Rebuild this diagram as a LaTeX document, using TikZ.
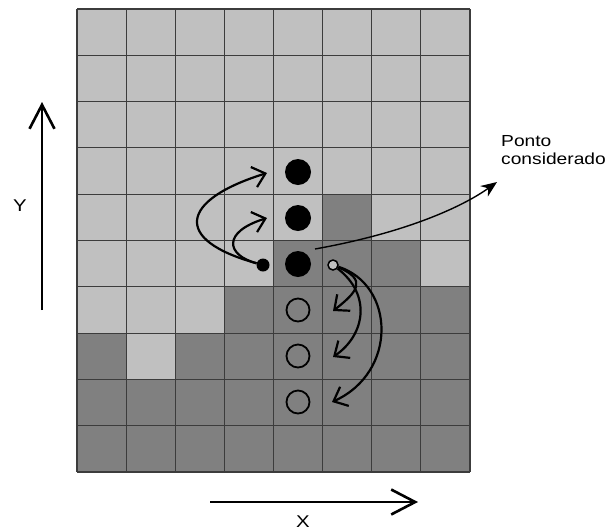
\documentclass[tikz,border=0pt]{standalone}
\usepackage{fontspec}
\setmainfont{Liberation Sans}
\newfontfamily\lblfont[FakeStretch=1.2]{Liberation Sans}
\usetikzlibrary{arrows.meta}
\definecolor{lightcell}{HTML}{C0C0C0}
\definecolor{darkcell}{HTML}{808080}
\definecolor{gridline}{HTML}{3C3C3C}
\begin{document}
\begin{tikzpicture}[x=1pt,y=-1pt,
  bigdot/.style={circle,fill=black,inner sep=0pt,minimum size=26pt},
  ring/.style={circle,draw=black,line width=1.8pt,inner sep=0pt,minimum size=23pt},
  smalldot/.style={circle,fill=black,inner sep=0pt,minimum size=13pt},
  smallring/.style={circle,draw=black,fill=lightcell,line width=1.5pt,inner sep=0pt,minimum size=10pt},
  curvearrow/.style={line width=2.2pt,-{Straight Barb[length=12pt,width=21pt,line width=2.2pt]}},
  axisarrow/.style={line width=2.6pt,-{Straight Barb[length=24pt,width=25pt,line width=2.6pt]}},
  pointer/.style={line width=1.4pt,-{Stealth[length=16pt,width=13pt]}},
  lbl/.style={font=\lblfont\fontsize{16}{18}\selectfont,inner sep=0pt},
  axlbl/.style={font=\lblfont\fontsize{17}{19}\selectfont,inner sep=0pt}]
\useasboundingbox (0,0) rectangle (609,531);
\fill[white] (0,0) rectangle (609,531);
% grid
\begin{scope}[shift={(77pt,-9pt)},x=49.125pt,y=-46.3pt]
  \fill[lightcell] (0,0) rectangle (8,10);
  \fill[darkcell] (5,4) rectangle (6,5);
  \fill[darkcell] (4,5) rectangle (7,6);
  \fill[darkcell] (3,6) rectangle (8,7);
  \fill[darkcell] (0,7) rectangle (1,8);
  \fill[darkcell] (2,7) rectangle (8,8);
  \fill[darkcell] (0,8) rectangle (8,10);
  \foreach \c in {0,...,8} \draw[gridline,line width=1.1pt] (\c,0) -- (\c,10);
  \foreach \r in {0,...,10} \draw[gridline,line width=1.1pt] (0,\r) -- (8,\r);
\end{scope}
% points
\node[bigdot] (d3) at (298,172) {};
\node[bigdot] (d4) at (298,218) {};
\node[bigdot] (d5) at (298,264) {};
\node[ring] (o6) at (298,310) {};
\node[ring] (o7) at (298,356) {};
\node[ring] (o8) at (298,402) {};
\node[smalldot] (sb) at (263,265) {};
\node[smallring] (so) at (333,265) {};
% arrow tips
\coordinate (t3) at (267,173);
\coordinate (t4) at (267,218);
\coordinate (t6) at (333,311);
\coordinate (t7) at (333,357);
\coordinate (t8) at (332,402);
\draw[curvearrow] (sb) .. controls (172,240) and (180,200) .. (t3);
\draw[curvearrow] (sb) .. controls (226,255) and (222,232) .. (t4);
\draw[curvearrow] (so) .. controls (368,280) and (357,292) .. (t6);
\draw[curvearrow] (so) .. controls (372,295) and (365,335) .. (t7);
\draw[curvearrow] (so) .. controls (395,285) and (398,372) .. (t8);
% pointer to label
\coordinate (pstart) at (315,249);
\coordinate (pend) at (497,182);
\draw[pointer] (pstart) .. controls (410,232) and (465,205) .. (pend);
\node[lbl,anchor=north west,align=left] (plab) at (501,135) {Ponto\\considerado};
% axes
\coordinate (yb) at (42,310);
\coordinate (yt) at (42,102);
\draw[axisarrow] (yb) -- (yt);
\node[axlbl] (ylab) at (20,206) {Y};
\coordinate (xb) at (210,502);
\coordinate (xt) at (418,502);
\draw[axisarrow] (xb) -- (xt);
\node[axlbl,anchor=base] (xlab) at (303,527) {X};
\end{tikzpicture}
\end{document}
